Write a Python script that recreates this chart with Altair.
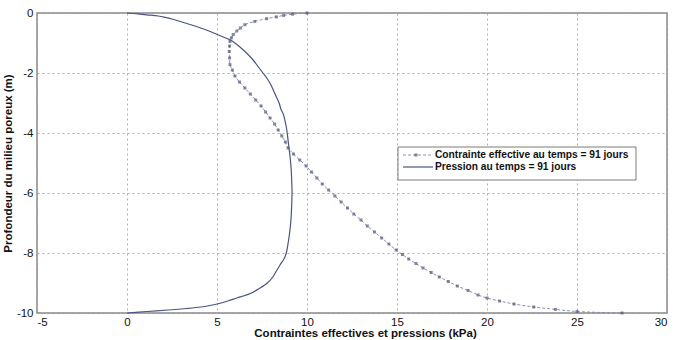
import altair as alt
import pandas as pd

# Pressure (solid line): depth (m) and value (kPa)
depth_p = [0, -0.03, -0.06, -0.1, -0.15, -0.2, -0.3, -0.4, -0.5, -0.6, -0.7, -0.8, -0.9,
           -1.0, -1.2, -1.4, -1.6, -1.8, -2.0, -2.2, -2.4, -2.6, -2.8, -3.0, -3.2, -3.4,
           -3.6, -3.8, -4.0, -4.4, -4.8, -5.2, -5.6, -6.0, -6.4, -6.8, -7.2, -7.6, -8.0,
           -8.2, -8.4, -8.6, -8.8, -9.0, -9.2, -9.35, -9.5, -9.6, -9.7, -9.75, -9.8,
           -9.85, -9.9, -9.95, -10.0]
pression = [0, 0.6, 1.1, 1.75, 2.15, 2.5, 3.05, 3.6, 4.1, 4.55, 4.95, 5.35, 5.75,
            6.0, 6.4, 6.75, 7.05, 7.3, 7.55, 7.8, 8.0, 8.15, 8.3, 8.45, 8.55, 8.7,
            8.78, 8.85, 8.9, 8.98, 9.06, 9.12, 9.15, 9.17, 9.15, 9.12, 9.06, 8.97, 8.85,
            8.72, 8.5, 8.3, 8.1, 7.8, 7.3, 6.85, 6.1, 5.6, 5.0, 4.6, 4.1,
            3.3, 2.3, 1.1, 0]

# Effective stress (dash-dot line with markers)
depth_e = [0, -0.04, -0.08, -0.13, -0.19, -0.28, -0.39, -0.5, -0.6, -0.72, -0.83, -0.94,
           -1.1, -1.28, -1.5, -1.72, -1.9, -2.1, -2.3, -2.5, -2.7, -2.9, -3.1, -3.3, -3.5,
           -3.7, -3.9, -4.1, -4.3, -4.5, -4.7, -4.9, -5.1, -5.3, -5.5, -5.7, -5.9, -6.1,
           -6.3, -6.5, -6.7, -6.9, -7.1, -7.3, -7.5, -7.7, -7.9, -8.05, -8.2, -8.35, -8.5,
           -8.65, -8.8, -8.95, -9.1, -9.25, -9.4, -9.5, -9.6, -9.7, -9.8, -9.88, -9.95, -10.0]
contrainte = [10, 9.2, 8.7, 8.3, 7.76, 7.1, 6.55, 6.3, 6.1, 5.9, 5.8, 5.72,
              5.7, 5.68, 5.7, 5.72, 5.85, 6.0, 6.25, 6.55, 6.85, 7.15, 7.45, 7.7, 7.95,
              8.2, 8.4, 8.6, 8.8, 8.95, 9.25, 9.6, 9.95, 10.25, 10.55, 10.85, 11.2, 11.55,
              11.9, 12.25, 12.6, 13.0, 13.35, 13.75, 14.15, 14.55, 14.95, 15.3, 15.65, 16.05, 16.45,
              16.9, 17.35, 17.85, 18.35, 18.95, 19.5, 20.0, 20.7, 21.5, 22.6, 23.8, 25.0, 27.5]

x_ticks = [-5, 0, 5, 10, 15, 20, 25, 30]
y_ticks = [0, -2, -4, -6, -8, -10]
legend_labels = ["Contrainte effective au temps = 91 jours", "Pression au temps = 91 jours"]

FONT = "Liberation Sans"
W, H = 630, 300
LBL = "datum.value < 0 ? '-' + abs(datum.value) : '' + datum.value"

dp = pd.DataFrame({"x": pression, "y": depth_p})
de = pd.DataFrame({"x": contrainte, "y": depth_e})

xs = alt.Scale(domain=[-5, 30], nice=False, zero=False)
ys = alt.Scale(domain=[-10, 0], nice=False, zero=False)

x_axis = alt.Axis(values=x_ticks, grid=True, gridDash=[2, 3], gridColor="#9a9a9a",
                  gridOpacity=0.8, domain=False, ticks=False, labelFont=FONT,
                  labelFontSize=11.5, labelColor="#111", labelPadding=3, labelExpr=LBL,
                  title="Contraintes effectives et pressions (kPa)", titleFont=FONT,
                  titleFontSize=11.5, titleFontWeight="bold", titleColor="#111",
                  titleX=328, titleY=20, titleAnchor="start", titleAlign="center",
                  titleBaseline="middle")
y_axis = alt.Axis(values=y_ticks, grid=True, gridDash=[2, 3], gridColor="#9a9a9a",
                  gridOpacity=0.8, domain=False, ticks=False, labelFont=FONT,
                  labelFontSize=11.5, labelColor="#111", labelPadding=4, labelExpr=LBL,
                  title="Profondeur du milieu poreux (m)", titleFont=FONT,
                  titleFontSize=11.5, titleFontWeight="bold", titleColor="#111",
                  titleX=-29, titleY=150, titleAngle=270, titleAlign="center",
                  titleBaseline="middle")

line_p = alt.Chart(dp).mark_line(color="#4b5482", strokeWidth=1.2,
                                 interpolate="catmull-rom").encode(
    x=alt.X("x:Q", scale=xs, axis=x_axis),
    y=alt.Y("y:Q", scale=ys, axis=y_axis),
    order=alt.Order("y:Q", sort="descending"),
)

line_e = alt.Chart(de).mark_line(color="#8a90ab", strokeWidth=1, strokeDash=[3, 2],
                                 interpolate="catmull-rom").encode(
    x=alt.X("x:Q", scale=xs), y=alt.Y("y:Q", scale=ys),
    order=alt.Order("y:Q", sort="descending"),
)
pts_e = alt.Chart(de).mark_point(shape="square", filled=True, size=9, color="#50567c").encode(
    x=alt.X("x:Q", scale=xs), y=alt.Y("y:Q", scale=ys),
)

# legend box
leg_df = pd.DataFrame({"label": legend_labels, "row": [0, 1]})
box = alt.Chart(pd.DataFrame({"a": [0]})).mark_rect(
    fill="white", stroke="#7a7a7a", strokeWidth=1).encode(
    x=alt.value(361), x2=alt.value(599), y=alt.value(134), y2=alt.value(167))
s1 = alt.Chart(pd.DataFrame({"a": [0]})).mark_rule(
    color="#8a90ab", strokeDash=[3, 2], strokeWidth=1).encode(
    x=alt.value(366), x2=alt.value(396), y=alt.value(142))
m1 = alt.Chart(pd.DataFrame({"a": [0]})).mark_point(
    shape="square", filled=True, size=9, color="#50567c").encode(
    x=alt.value(379), y=alt.value(142))
s2 = alt.Chart(pd.DataFrame({"a": [0]})).mark_rule(
    color="#4b5482", strokeWidth=1.2).encode(
    x=alt.value(366), x2=alt.value(396), y=alt.value(154))
t1 = alt.Chart(leg_df[leg_df.row == 0]).mark_text(
    font=FONT, fontSize=10.2, fontWeight="bold", align="left", baseline="middle",
    color="#111").encode(x=alt.value(398), y=alt.value(142), text="label:N")
t2 = alt.Chart(leg_df[leg_df.row == 1]).mark_text(
    font=FONT, fontSize=10.2, fontWeight="bold", align="left", baseline="middle",
    color="#111").encode(x=alt.value(398), y=alt.value(154), text="label:N")

chart = alt.layer(line_p, line_e, pts_e, box, s1, m1, s2, t1, t2).properties(
    width=W, height=H,
    autosize=alt.AutoSizeParams(type="none"),
    padding={"left": 37, "top": 13, "right": 7, "bottom": 27},
    background="white",
).configure_view(stroke="#8a8a8a", strokeWidth=1.5)

chart.save("out.html", embed_options={"renderer": "svg", "actions": False})
